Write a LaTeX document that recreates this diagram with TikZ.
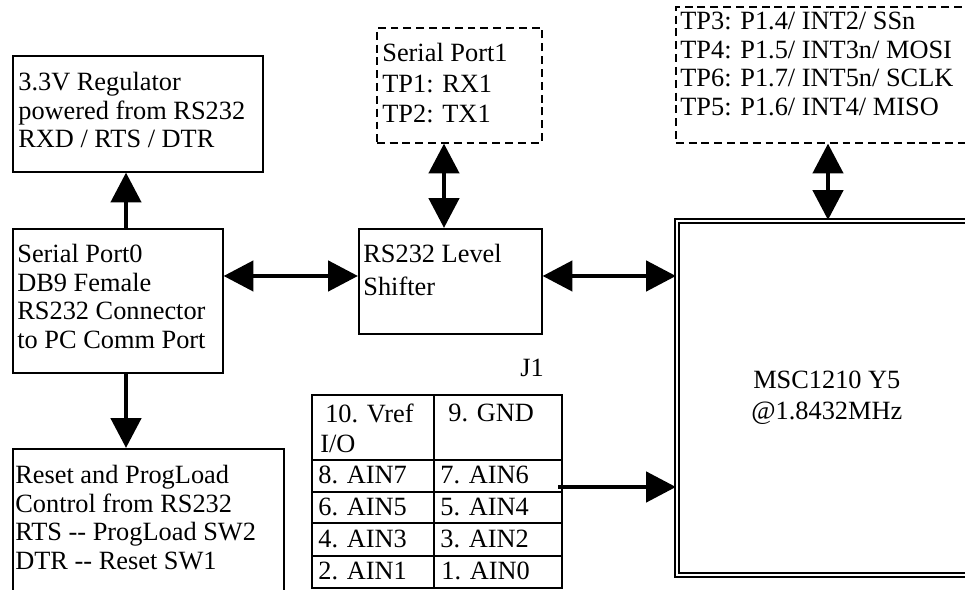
\documentclass[tikz,border=0pt]{standalone}
\usepackage{fontspec}
\setmainfont{Liberation Serif}
\usetikzlibrary{arrows.meta}

\begin{document}
\begin{tikzpicture}[x=0.02cm,y=-0.02cm,
    box/.style={draw,line width=0.9pt,inner sep=0pt,anchor=north west},
    dbox/.style={box,dash pattern=on 4.5pt off 2.8pt},
    txt/.style={inner sep=0pt,anchor=north west,align=left,font=\fontsize{15}{16.2}\selectfont},
    cell/.style={inner sep=0pt,anchor=base west,font=\fontsize{15}{17}\selectfont},
    arr/.style={line width=2.8pt,-{Triangle[length=17pt,width=17pt]}},
    darr/.style={line width=2.8pt,{Triangle[length=17pt,width=17pt]}-{Triangle[length=17pt,width=17pt]}}]
                \useasboundingbox (0,0) rectangle (965,590);
                \clip (0,0) rectangle (965,590);
                % blocks
                \node[box,minimum width=5cm,minimum height=2.32cm] (reg) at (12,55) {};
                \node[txt] (regtxt) at (18,72) {3.3V Regulator\\powered from RS232\\RXD / RTS / DTR};
                \node[box,minimum width=4.2cm,minimum height=2.88cm] (sp0) at (12,228) {};
                \node[txt] (sp0txt) at (17,244) {Serial Port0\\DB9 Female\\RS232 Connector\\to PC Comm Port};
                \node[box,minimum width=5.42cm,minimum height=3.2cm] (rst) at (12,448) {};
                \node[txt] (rsttxt) at (15,465) {Reset and ProgLoad\\Control from RS232\\RTS -{}- ProgLoad SW2\\DTR -{}- Reset SW1};
                \node[box,minimum width=3.66cm,minimum height=2.1cm] (lvl) at (358,228) {};
                \node[txt,font=\fontsize{15}{18.7}\selectfont] (lvltxt) at (363,244) {RS232 Level\\Shifter};
                \node[dbox,minimum width=3.3cm,minimum height=2.3cm] (sp1) at (376,27) {};
                \node[txt,font=\fontsize{15}{17.3}\selectfont] (sp1txt) at (382,43) {Serial Port1\\TP1: RX1\\TP2: TX1};
                \node[dbox,minimum width=6.12cm,minimum height=2.72cm] (tp) at (675,6) {};
                \node[txt] (tptxt) at (680,12) {TP3: P1.4/ INT2/ SSn\\TP4: P1.5/ INT3n/ MOSI\\TP6: P1.7/ INT5n/ SCLK\\TP5: P1.6/ INT4/ MISO};
                \node[box,double,line width=1pt,double distance=1.2pt,minimum width=6cm,minimum height=7.08cm,
                    align=center,font=\fontsize{15}{17.6}\selectfont] (msc) at (676,220) {MSC1210 Y5\\@1.8432MHz};
                % J1 header
                \node[cell,anchor=base] (j1) at (532,377) {J1};
                \draw[line width=1.3pt] (312,395) rectangle (562,588);
                \draw[line width=0.8pt] (434,395) -- (434,588);
                \draw[line width=0.8pt] (312,460) -- (562,460) (312,492) -- (562,492)
                    (312,523) -- (562,523) (312,556) -- (562,556);
                \node[txt,font=\fontsize{15}{17}\selectfont] (p10) at (320,404) {\hspace*{2.8pt}10. Vref\\I/O};
                \node[cell] (p9) at (448,422) {9. GND};
                \node[cell] (p8) at (318,484) {8. AIN7};
                \node[cell] (p7) at (440,484) {7. AIN6};
                \node[cell] (p6) at (318,516) {6. AIN5};
                \node[cell] (p5) at (440,516) {5. AIN4};
                \node[cell] (p4) at (318,548) {4. AIN3};
                \node[cell] (p3) at (440,548) {3. AIN2};
                \node[cell] (p2) at (318,580) {2. AIN1};
                \node[cell] (p1) at (441,580) {1. AIN0};
                % connections
                \coordinate (upx) at (126,0);
                \coordinate (busy) at (0,276);
                \coordinate (sp1x) at (444,0);
                \coordinate (tpx) at (828,0);
                \coordinate (j1out) at (558,487);
                \draw[arr] (sp0.north -| upx) -- (reg.south -| upx);
                \draw[arr] (sp0.south -| upx) -- (rst.north -| upx);
                \draw[darr] (sp0.east |- busy) -- (lvl.west |- busy);
                \draw[darr] (lvl.east |- busy) -- (msc.west |- busy);
                \draw[darr] (sp1.south -| sp1x) -- (lvl.north -| sp1x);
                \draw[darr] (tp.south -| tpx) -- (msc.north -| tpx);
                \draw[arr] (j1out) -- (j1out -| msc.west);
            \end{tikzpicture}
\end{document}
